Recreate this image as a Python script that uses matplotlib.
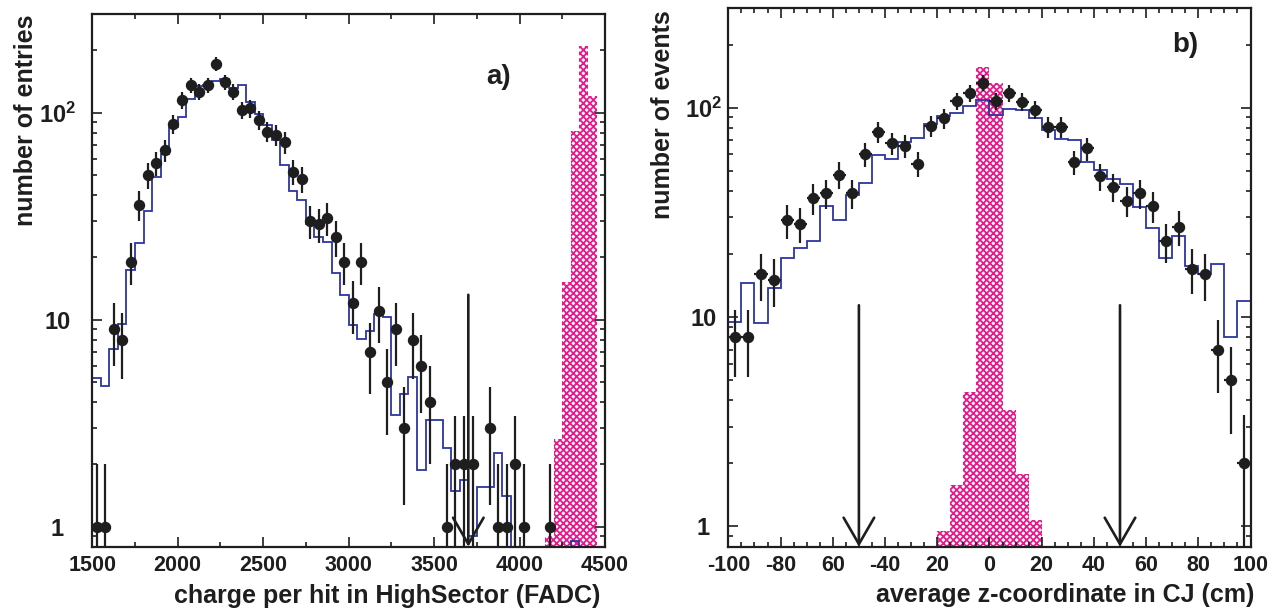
import numpy as np
import matplotlib
matplotlib.use('Agg')
import matplotlib.pyplot as plt
from matplotlib.ticker import FixedLocator, MultipleLocator, LogLocator, NullFormatter, FixedFormatter

# ---- panel a): charge per hit, 50 FADC bins from 1500 to 4500 ----
charge_edges = np.arange(1500, 4501, 50)
charge_data = [1, 1, 9, 8, 19, 36, 50, 57, 66, 88,
               115, 136, 126, 136, 172, 141, 126, 103, 105, 92,
               81, 78, 72, 52, 48, 30, 29, 31, 25, 19,
               12, 19, 7, 11, 5, 9, 3, 8, 6, 4,
               0, 1, 2, 2, 2, 0, 3, 1, 1, 2,
               1, 0, 0, 1, 0, 0, 0, 0, 0, 0]
charge_mc = [5.2, 4.8, 7.2, 9.5, 17.3, 23.5, 33.4, 48.9, 63.5, 85,
             95.6, 116, 134, 136, 142, 145, 132, 136, 113, 99,
             87, 74, 56, 42, 37.8, 29.1, 25, 23.8, 16.8, 13.2,
             9.4, 8.1, 8.8, 10.6, 10.3, 3.47, 4.4, 5.3, 1.88, 3.28,
             3.26, 2.39, 1.49, 1.68, 0.9, 1.56, 1.56, 2.26, 1.4, 0,
             0, 0, 0, 0, 0, 0, 0.85, 0, 0, 0]
charge_sig_lo = [4150, 4200, 4250, 4300, 4350, 4400]
charge_sig = [0.9, 2.65, 15.2, 82, 210, 121]
charge_cuts = [3700]
charge_arrow_top = 13.2
charge_ticks = [1500, 2000, 2500, 3000, 3500, 4000, 4500]

# ---- panel b): average z in CJ, 5 cm bins from -100 to 100 ----
z_edges = np.arange(-100, 101, 5)
z_data = [8, 8, 16, 15, 29, 28, 37, 39, 48, 39,
          60, 77, 68, 66, 54, 82, 89, 108, 118, 132,
          108, 118, 107, 98, 81, 81, 55, 64, 47, 42,
          36, 39, 34, 23, 27, 17, 16, 7, 5, 2]
z_mc = [9.5, 14.5, 9.4, 13.8, 19.1, 21.4, 23.2, 33.8, 29, 38.5,
        43.6, 59.8, 57, 69, 71.6, 84, 91, 94.6, 102, 109.5,
        92, 99, 97.5, 89.6, 78, 71, 70, 55, 50.7, 45.5,
        43.5, 33.6, 26.8, 19.2, 24.5, 17.5, 16.1, 18, 8.0, 11.9]
z_sig_lo = [-20, -15, -10, -5, 0, 5, 10, 15]
z_sig = [0.95, 1.58, 4.4, 157, 131, 3.6, 1.77, 1.07]
z_cuts = [-50, 50]
z_arrow_top = 11.4
z_ticks = [-100, -80, -60, -40, -20, 0, 20, 40, 60, 80, 100]
z_tick_labels = ['-100', '-80', '60', '-40', '20', '0', '20', '40', '60', '80', '100']

y_ticks = [1, 10, 100]
y_tick_labels = ['1', '10', r'$\mathbf{10^{2}}$']

PINK = '#e8198b'
BLUE = '#2d35a2'
INK = '#1e1e1e'
YMIN, YMAX = 0.8, 300

plt.rcParams['font.family'] = ['Liberation Sans', 'DejaVu Sans']
plt.rcParams['font.weight'] = 'bold'
plt.rcParams['axes.labelweight'] = 'bold'
plt.rcParams['mathtext.fontset'] = 'custom'
plt.rcParams['mathtext.rm'] = 'Liberation Sans:bold'
plt.rcParams['mathtext.bf'] = 'Liberation Sans:bold'
plt.rcParams['hatch.color'] = PINK
plt.rcParams['hatch.linewidth'] = 1.3


def draw_panel(ax, edges, data, mc, sig_lo, sig, cuts, arrow_top):
    width = edges[1] - edges[0]
    centers = edges[:-1] + width / 2.0

    # signal MC, pink cross-hatched
    ax.bar(sig_lo, sig, width=width, align='edge', bottom=1e-3,
           color='white', edgecolor=PINK, hatch='xxxxx', linewidth=0, zorder=1)

    # background MC, blue step line
    mc = np.asarray(mc, float)
    ax.stairs(np.where(mc > 0, mc, 1e-3), edges, baseline=1e-3,
              color=BLUE, lw=1.3, zorder=2)

    # data with sqrt(N) errors
    n = np.asarray(data, float)
    m = n > 0
    err = np.sqrt(n[m])
    ax.errorbar(centers[m], n[m], yerr=[np.minimum(err, n[m] - 1e-3), err],
                xerr=width / 2.0, fmt='o', ms=7.2, color=INK, mfc=INK, mec=INK,
                elinewidth=1.6, capsize=0, zorder=3)

    # cut arrows
    for c in cuts:
        ax.annotate('', xy=(c, YMIN), xytext=(c, arrow_top),
                    arrowprops=dict(arrowstyle='->,head_length=0.95,head_width=0.55',
                                    lw=1.9, color=INK, shrinkA=0, shrinkB=0,
                                    mutation_scale=20),
                    zorder=4)

    ax.set_yscale('log')
    ax.set_ylim(YMIN, YMAX)
    ax.set_xlim(edges[0], edges[-1])
    ax.yaxis.set_major_locator(FixedLocator(y_ticks))
    ax.yaxis.set_major_formatter(FixedFormatter(y_tick_labels))
    ax.yaxis.set_minor_locator(LogLocator(base=10, subs=np.arange(2, 10)))
    ax.yaxis.set_minor_formatter(NullFormatter())
    ax.tick_params(which='both', direction='in', top=True, right=True,
                   width=1.2, color=INK, labelsize=15.5, labelcolor=INK)
    ax.tick_params(axis='y', labelsize=17)
    ax.tick_params(which='major', length=7.5)
    ax.tick_params(which='minor', length=3.8)
    ax.tick_params(axis='x', pad=6)
    for s in ax.spines.values():
        s.set_linewidth(1.6)
        s.set_color(INK)


fig = plt.figure(figsize=(12.83, 6.11), dpi=100)

ax1 = fig.add_axes([0.0719, 0.1052, 0.3997, 0.8718])
draw_panel(ax1, charge_edges, charge_data, charge_mc,
           charge_sig_lo, charge_sig, charge_cuts, charge_arrow_top)
ax1.xaxis.set_major_locator(FixedLocator(charge_ticks))
ax1.xaxis.set_minor_locator(MultipleLocator(250))
ax1.tick_params(axis='y', pad=25)
for lab in ax1.get_yticklabels():
    lab.set_ha('center')
ax1.set_xlabel('charge per hit in HighSector (FADC)', fontsize=18,
               loc='right', color=INK)
ax1.xaxis.set_label_coords(0.99, -0.07)
ax1.set_ylabel('number of entries', fontsize=18, loc='top', color=INK)
ax1.yaxis.set_label_coords(-0.105, 1.0)
ax1.text(0.793, 0.882, 'a)', transform=ax1.transAxes, fontsize=20,
         ha='center', va='center', color=INK)

ax2 = fig.add_axes([0.5677, 0.1052, 0.4070, 0.8817])
draw_panel(ax2, z_edges, z_data, z_mc, z_sig_lo, z_sig, z_cuts, z_arrow_top)
ax2.xaxis.set_major_locator(FixedLocator(z_ticks))
ax2.xaxis.set_major_formatter(FixedFormatter(z_tick_labels))
ax2.xaxis.set_minor_locator(MultipleLocator(5))
ax2.tick_params(axis='y', pad=18)
for lab in ax2.get_yticklabels():
    lab.set_ha('center')
ax2.set_xlabel('average z-coordinate in CJ (cm)', fontsize=18,
               loc='right', color=INK)
ax2.xaxis.set_label_coords(1.008, -0.067)
ax2.set_ylabel('number of events', fontsize=18, loc='top', color=INK)
ax2.yaxis.set_label_coords(-0.102, 0.996)
ax2.text(0.875, 0.931, 'b)', transform=ax2.transAxes, fontsize=20,
         ha='center', va='center', color=INK)

fig.savefig('out.png', dpi=100)
